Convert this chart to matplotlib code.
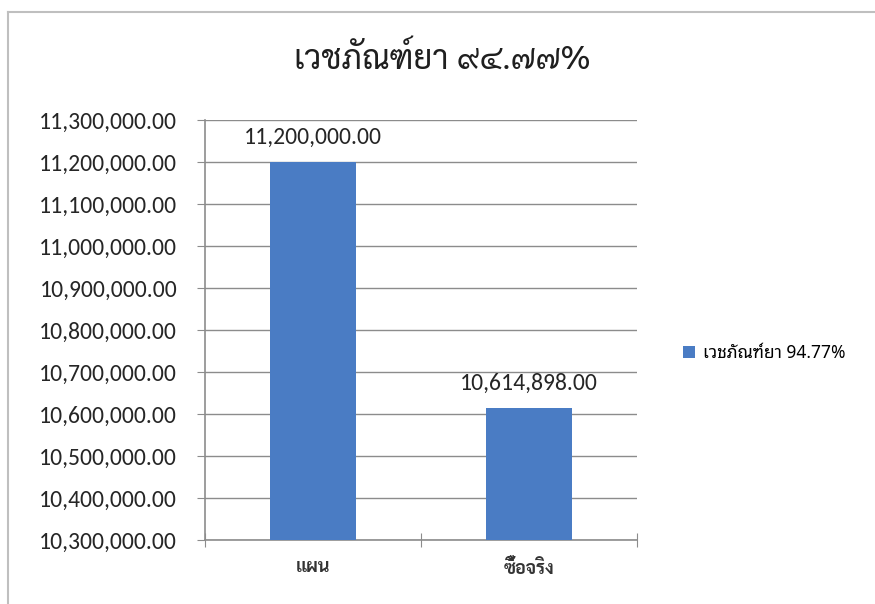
import matplotlib
matplotlib.use("Agg")
import matplotlib.pyplot as plt
from matplotlib.lines import Line2D
from matplotlib.ticker import FuncFormatter

categories = ["แผน", "ซื้อจริง"]
values = [11200000.00, 10614898.00]
series_name = "เวชภัณฑ์ยา 94.77%"
title = "เวชภัณฑ์ยา ๙๔.๗๗%"
yticks = [10300000 + 100000 * i for i in range(11)]

bar_color = "#4a7cc4"
thai_font = ["Sarabun", "Noto Sans Thai Looped", "DejaVu Sans"]
num_font = ["Carlito", "DejaVu Sans"]

fig = plt.figure(figsize=(8.75, 6.04), dpi=100)
W, H = 875, 604
ax = fig.add_axes([205 / W, 1 - 540 / H, (637 - 205) / W, (540 - 120) / H])

x = range(len(categories))
bars = ax.bar(x, values, width=0.40, color=bar_color, label=series_name, zorder=3)

ax.set_xlim(-0.5, 1.5)
ax.set_ylim(yticks[0], yticks[-1])
ax.set_yticks(yticks)
ax.yaxis.set_major_formatter(FuncFormatter(lambda v, p: f"{v:,.2f}"))
ax.grid(axis="y", color="#8c8c8c", linewidth=1.0, zorder=0)

# x ticks as category separators, labels at centres
ax.set_xticks([-0.5, 0.5, 1.5])
ax.set_xticklabels([])
ax.set_xticks(list(x), minor=True)
ax.set_xticklabels(categories, minor=True, fontfamily=thai_font, fontsize=13,
                   fontweight="bold", color="#333333")
ax.tick_params(axis="x", which="major", direction="inout", length=10, color="#8c8c8c")
ax.tick_params(axis="x", which="minor", length=0, pad=14)
ax.tick_params(axis="y", direction="out", length=6, color="#8c8c8c", pad=14)
for lab in ax.get_yticklabels():
    lab.set_fontfamily(num_font)
    lab.set_fontsize(17)
    lab.set_color("#262626")

for s in ["top", "right"]:
    ax.spines[s].set_visible(False)
for s in ["left", "bottom"]:
    ax.spines[s].set_color("#8c8c8c")
    ax.spines[s].set_linewidth(1.2)

for b, v in zip(bars, values):
    ax.annotate(f"{v:,.2f}", (b.get_x() + b.get_width() / 2, v),
                xytext=(0, 10), textcoords="offset points", ha="center", va="bottom",
                fontfamily=num_font, fontsize=17, color="#262626")

fig.text(442 / W, 1 - 59 / H, title, ha="center", va="center",
         fontfamily=thai_font, fontsize=24, color="#1f1f1f")

ax.legend(loc="center left", bbox_to_anchor=(667 / W, 1 - 353 / H),
          bbox_transform=fig.transFigure, frameon=False, handlelength=0.7,
          handleheight=0.7, handletextpad=0.45,
          prop={"family": ["Noto Sans Thai Looped", "DejaVu Sans"], "size": 12.5})

# chart area border (top and left visible)
fig.add_artist(Line2D([8 / W, 8 / W], [0, 1 - 12 / H], color="#bfbfbf", linewidth=1.5))
fig.add_artist(Line2D([8 / W, 1], [1 - 12 / H, 1 - 12 / H], color="#bfbfbf", linewidth=1.5))

fig.savefig("out.png", dpi=100)
